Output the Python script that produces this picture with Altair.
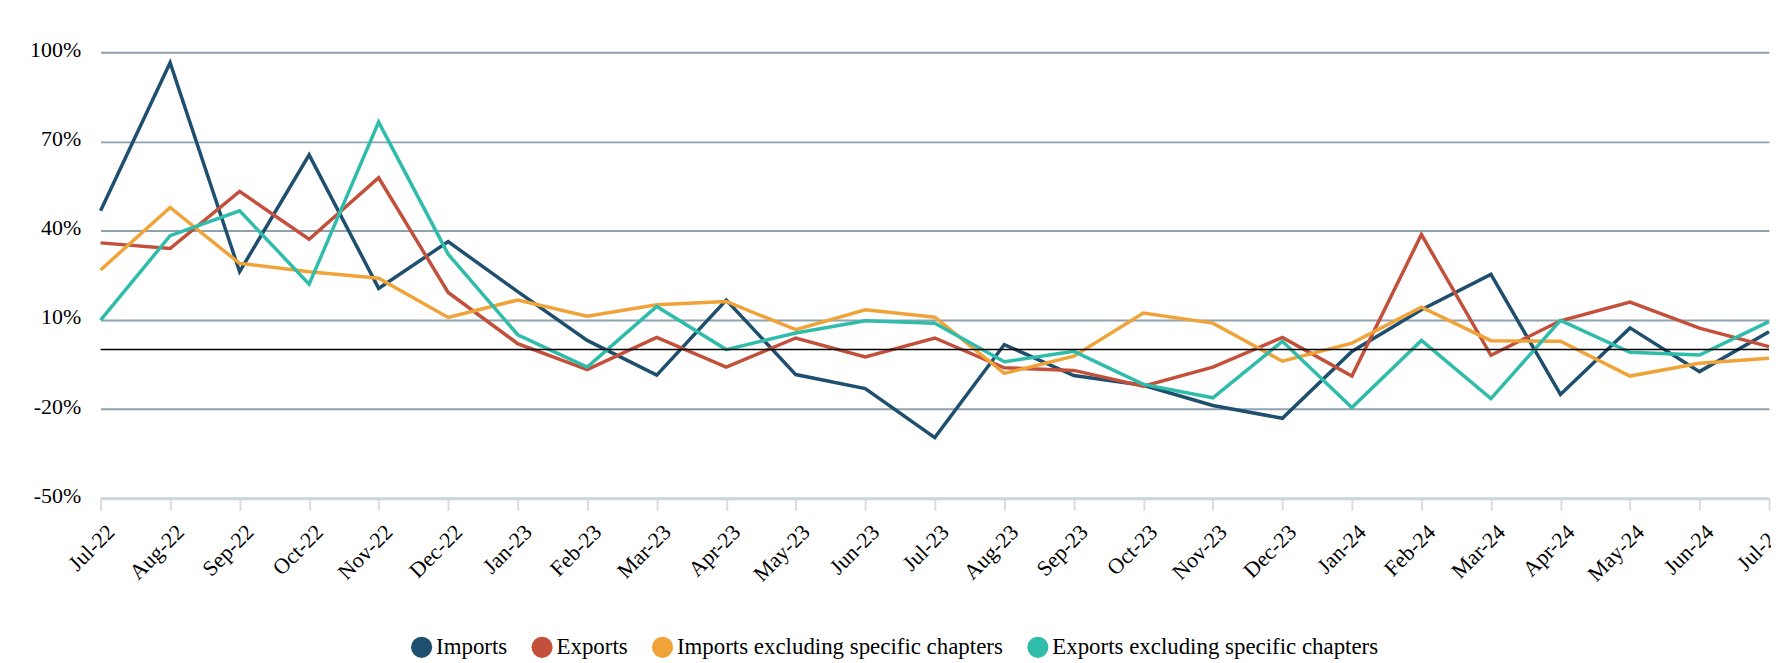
import altair as alt
import pandas as pd

months = ["Jul-22", "Aug-22", "Sep-22", "Oct-22", "Nov-22", "Dec-22", "Jan-23", "Feb-23",
          "Mar-23", "Apr-23", "May-23", "Jun-23", "Jul-23", "Aug-23", "Sep-23", "Oct-23",
          "Nov-23", "Dec-23", "Jan-24", "Feb-24", "Mar-24", "Apr-24", "May-24", "Jun-24", "Jul-24"]

imports = [46.7, 96.5, 26.2, 65.5, 20.6, 36.3, 19.5, 3.1, -8.6, 16.7, -8.4, -13.1, -29.6,
           1.7, -8.7, -12.0, -18.8, -23.1, -0.6, 13.4, 25.3, -15.1, 7.3, -7.4, 6.0]
exports = [35.9, 34.0, 53.2, 37.1, 57.8, 19.2, 2.0, -6.7, 4.1, -5.9, 3.9, -2.5, 3.9,
           -6.1, -7.0, -12.3, -5.9, 4.1, -8.9, 38.7, -1.9, 9.7, 16.0, 7.2, 1.0]
imports_excl = [26.8, 47.8, 29.0, 26.2, 24.0, 10.8, 16.7, 11.2, 15.1, 16.2, 6.7, 13.4, 10.9,
                -8.0, -2.2, 12.3, 8.9, -3.9, 2.2, 14.3, 3.0, 2.8, -8.9, -4.6, -2.9]
exports_excl = [9.9, 38.3, 46.7, 22.0, 76.5, 32.1, 5.0, -5.9, 14.5, 0.0, 5.6, 9.7, 8.9,
                -4.1, -0.6, -11.7, -16.2, 2.8, -19.5, 3.1, -16.5, 9.8, -0.9, -1.8, 9.4]

series_names = ["Imports", "Exports", "Imports excluding specific chapters",
                "Exports excluding specific chapters"]
series_colors = ["#1f4f6e", "#c2503a", "#f0a338", "#2fbcab"]
y_ticks = [-50, -20, 10, 40, 70, 100]

rows = []
for name, vals in zip(series_names, [imports, exports, imports_excl, exports_excl]):
    for m, v in zip(months, vals):
        rows.append({"month": m, "value": v, "series": name})
df = pd.DataFrame(rows)

FONT = "Liberation Serif, Times New Roman, serif"

x_enc = alt.X(
    "month:O",
    sort=months,
    scale=alt.Scale(type="point", padding=0),
    axis=alt.Axis(
        title=None,
        labelAngle=-45,
        labelFont=FONT,
        labelFontSize=22,
        labelColor="#000000",
        labelPadding=11,
        labelOffset=3,
        tickSize=12,
        tickWidth=2,
        tickColor="#dcdcdc",
        domainColor="#ccd6dd",
        domainWidth=3,
        grid=False,
        labelOverlap=False,
    ),
)

y_enc = alt.Y(
    "value:Q",
    scale=alt.Scale(domain=[-50, 100], nice=False, zero=False),
    axis=alt.Axis(
        title=None,
        values=y_ticks,
        labelExpr="datum.value + '%'",
        labelFont=FONT,
        labelFontSize=22,
        labelColor="#000000",
        labelPadding=20,
        labelOffset=-3,
        tickSize=0,
        domain=False,
        grid=True,
        gridColor="#8fa2b0",
        gridWidth=2,
    ),
)

color_scale = alt.Scale(domain=series_names, range=series_colors)


def make_legend():
    return alt.Legend(
        title=None,
        orient="none",
        legendX=311,
        legendY=586,
        direction="horizontal",
        symbolType="circle",
        symbolSize=450,
        symbolStrokeWidth=0,
        symbolOpacity=1,
        labelFont=FONT,
        labelFontSize=23,
        labelColor="#000000",
        labelOffset=3,
        columnPadding=23,
        labelLimit=500,
    )


lines = alt.Chart(df).mark_line(strokeWidth=3.5).encode(
    x=x_enc,
    y=y_enc,
    color=alt.Color("series:N", sort=series_names, scale=color_scale, legend=make_legend()),
)

legend_pts = alt.Chart(df).mark_circle(filled=True, size=0).encode(
    x=alt.X("month:O", sort=months),
    y=alt.Y("value:Q"),
    color=alt.Color("series:N", sort=series_names, scale=color_scale, legend=make_legend()),
)

zero = alt.Chart(pd.DataFrame({"z": [0]})).mark_rule(color="#000000", strokeWidth=1.5).encode(
    y=alt.Y("z:Q")
)

chart = alt.layer(lines, legend_pts, zero).properties(
    width=1676,
    height=448,
    autosize=alt.AutoSizeParams(type="none"),
    padding={"left": 93, "top": 43, "right": 2, "bottom": 164},
).configure_view(stroke=None)

chart.save("out.html", embed_options={"renderer": "svg", "actions": False})
